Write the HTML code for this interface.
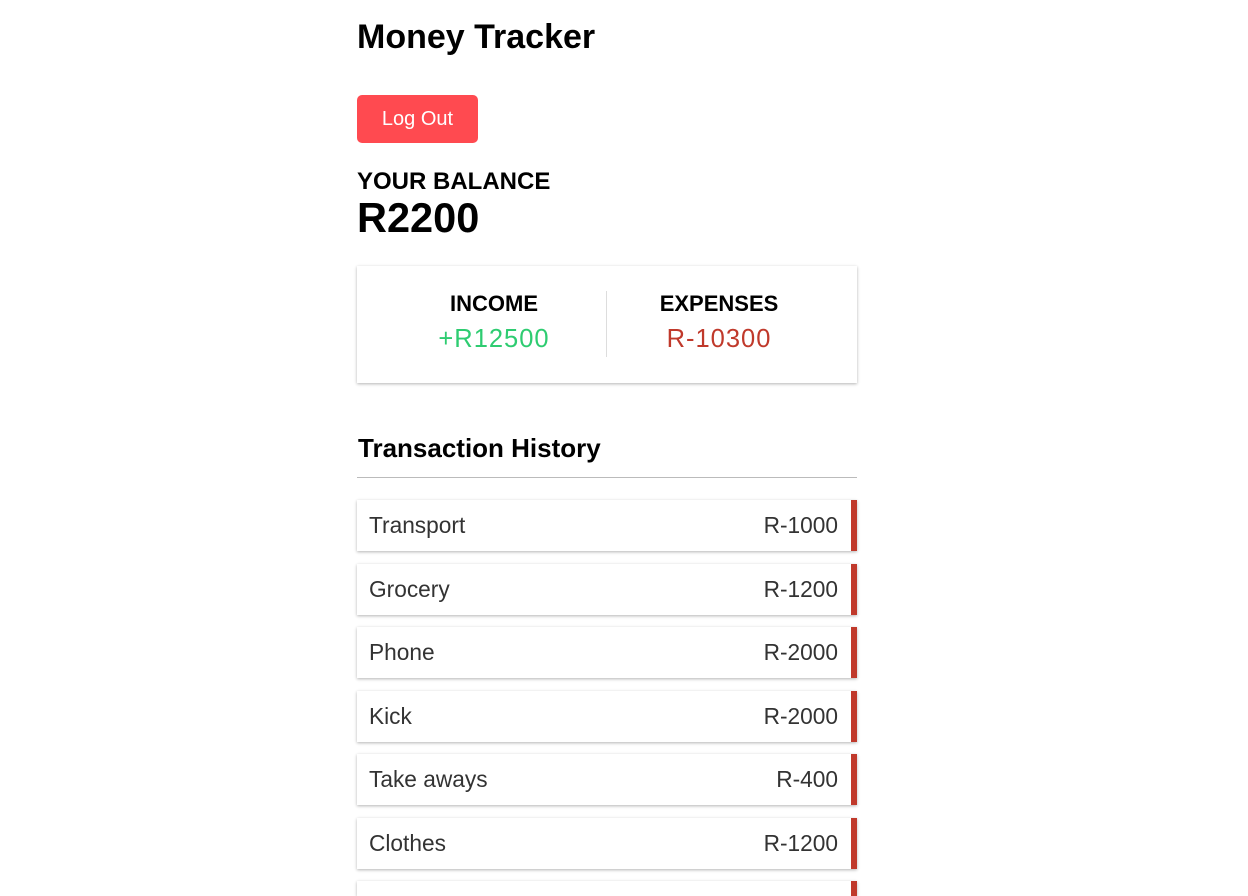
<!DOCTYPE html>
<html style="overflow:hidden;width:1248px;height:896px"><head><meta charset="utf-8"><style>
*{box-sizing:border-box;margin:0;padding:0}
body{width:1248px;height:896px;overflow:hidden;background:#fff;font-family:"Liberation Sans",Arial,sans-serif;position:relative}
.abs{position:absolute}
h1{position:absolute;left:357px;top:17px;font-size:34px;font-weight:bold;line-height:40px}
.btn{left:357px;top:95px;width:121px;height:48px;background:#ff4a50;border-radius:5px;color:#fff;font-size:20px;line-height:48px;text-align:center}
.card{left:357px;top:266px;width:500px;height:117px;box-shadow:0 1px 3px rgba(0,0,0,.3);background:#fff}
.col{top:24px;width:250px;text-align:center}
.col h4{font-size:22px;font-weight:bold;line-height:28px}
.col p{font-size:25.5px;line-height:34px;letter-spacing:1px;margin-top:4px}
.item{left:357px;width:500px;height:51px;box-shadow:0 1px 3px rgba(0,0,0,.3);border-right:6px solid #c0392b;font-size:22.7px;color:#333;line-height:51px;padding:0 13px 0 12px;display:flex;justify-content:space-between;background:#fff}
</style></head><body>
<h1>Money Tracker</h1>
<div class="abs btn">Log Out</div>
<div class="abs" style="left:357px;top:168px;font-size:24px;font-weight:bold;line-height:28px">YOUR BALANCE</div>
<div class="abs" style="left:357px;top:196px;font-size:41.5px;font-weight:bold;line-height:44px">R2200</div>
<div class="abs card">
<div class="abs col" style="left:12px"><h4>INCOME</h4><p style="color:#2ecc71">+R12500</p></div>
<div class="abs" style="left:249px;top:25px;width:1px;height:66px;background:#ddd"></div>
<div class="abs col" style="left:237px"><h4>EXPENSES</h4><p style="color:#c0392b">R-10300</p></div>
</div>
<div class="abs" style="left:358px;top:432px;font-size:26px;font-weight:bold;line-height:32px">Transaction History</div>
<div class="abs" style="left:357px;top:477px;width:500px;height:1px;background:#bbb"></div>
<div class="abs item" style="top:500px"><span>Transport</span><span>R-1000</span></div>
<div class="abs item" style="top:564px"><span>Grocery</span><span>R-1200</span></div>
<div class="abs item" style="top:627px"><span>Phone</span><span>R-2000</span></div>
<div class="abs item" style="top:691px"><span>Kick</span><span>R-2000</span></div>
<div class="abs item" style="top:754px"><span>Take aways</span><span>R-400</span></div>
<div class="abs item" style="top:818px"><span>Clothes</span><span>R-1200</span></div>
<div class="abs item" style="top:881px;height:15px"><span></span><span></span></div>
</body></html>
